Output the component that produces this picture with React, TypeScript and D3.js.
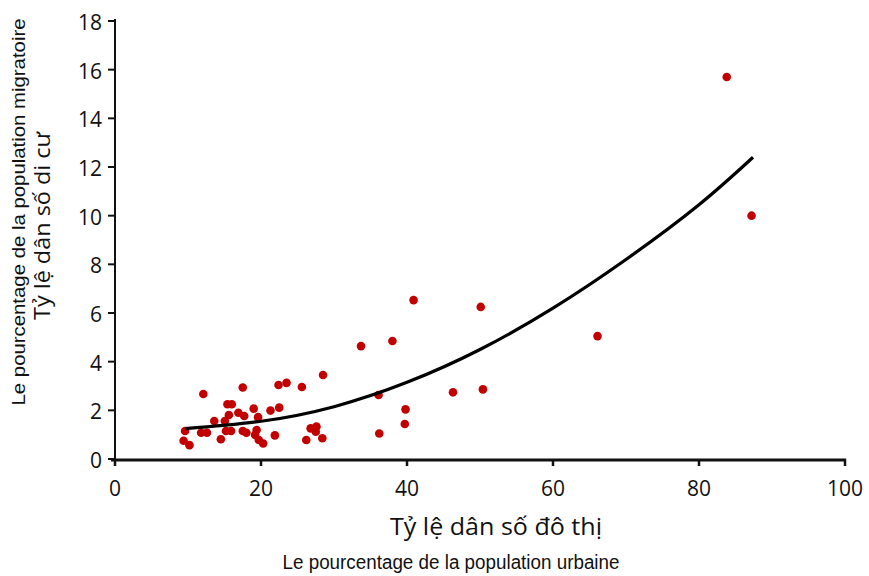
import React from "react";
import * as d3 from "d3";

// Scatter data: urban population % (x) vs migrant population % (y)
const urbanPct = [
  9.6, 9.4, 10.2, 12.1, 11.8, 12.6, 13.6, 14.5, 15.05, 15.6,
  15.4, 16.0, 15.2, 15.9, 17.5, 16.9, 17.7, 17.5, 18.0, 19.0,
  19.6, 19.4, 19.2, 19.7, 20.3, 21.3, 22.5, 21.9, 22.4, 23.5,
  25.6, 26.2, 26.8, 27.6, 27.5, 28.4, 28.5, 33.7, 38.0, 36.1,
  46.3, 50.4, 39.8, 39.7, 36.2, 40.9, 50.1, 83.8, 87.2, 66.1,
];
const migrantPct = [
  1.15, 0.75, 0.57, 2.67, 1.08, 1.08, 1.56, 0.81, 1.56, 1.81,
  2.25, 2.25, 1.15, 1.15, 2.94, 1.9, 1.77, 1.15, 1.08, 2.07,
  1.72, 1.19, 0.99, 0.78, 0.64, 1.99, 2.11, 0.97, 3.04, 3.13,
  2.96, 0.78, 1.26, 1.33, 1.12, 0.85, 3.45, 4.64, 4.85, 2.63,
  2.74, 2.86, 2.04, 1.44, 1.05, 6.53, 6.25, 15.7, 10.0, 5.05,
];

// Trend curve
const trendX = [9.6, 20, 30, 40, 50, 60, 70, 80, 87.4];
const trendY = [1.25, 1.55, 2.15, 3.15, 4.5, 6.2, 8.2, 10.45, 12.4];

const xTicks = [0, 20, 40, 60, 80, 100];
const yTicks = [0, 2, 4, 6, 8, 10, 12, 14, 16, 18];

const yTitleVi = "Tỷ lệ dân số di cư";
const yTitleFr = "Le pourcentage de la population migratoire";
const xTitleVi = "Tỷ lệ dân số đô thị";
const xTitleFr = "Le pourcentage de la population urbaine";

export default function App() {
  const W = 869;
  const H = 576;
  const x = d3.scaleLinear().domain([0, 100]).range([115, 845]);
  const y = d3.scaleLinear().domain([0, 18]).range([459, 21]);

  const points = urbanPct.map((v, i) => ({ x: v, y: migrantPct[i] }));
  const trend = trendX.map((v, i) => [v, trendY[i]] as [number, number]);
  const line = d3
    .line<[number, number]>()
    .x((d) => x(d[0]))
    .y((d) => y(d[1]))
    .curve(d3.curveNatural);

  const tickFont = "'Open Sans', 'Noto Sans', sans-serif";
  const x0 = x(0);
  const y0 = y(0);

  return (
    <svg
      width={W}
      height={H}
      style={{ position: "absolute", left: 0, top: 0, background: "#fff" }}
    >
      <rect x={0} y={0} width={W} height={H} fill="#fff" />
      {/* y axis */}
      <line x1={x0} x2={x0} y1={y(18) - 2} y2={y0 + 2} stroke="#111" strokeWidth={2} />
      {yTicks.map((t) => (
        <g key={"y" + t}>
          <line x1={x0 - 7} x2={x0} y1={y(t)} y2={y(t)} stroke="#111" strokeWidth={2} />
          <text
            x={x0 - 13}
            y={y(t) + 1}
            textAnchor="end"
            dominantBaseline="central"
            fontFamily={tickFont}
            fontSize={21}
            fill="#111"
          >
            {t}
          </text>
        </g>
      ))}
      {/* x axis */}
      <line x1={x0 - 4} x2={x(100) + 1} y1={y0 + 1} y2={y0 + 1} stroke="#111" strokeWidth={3} />
      {xTicks.map((t) => (
        <g key={"x" + t}>
          <line x1={x(t)} x2={x(t)} y1={y0} y2={y0 + 7} stroke="#111" strokeWidth={2.5} />
          <text
            x={x(t)}
            y={y0 + 29}
            textAnchor="middle"
            dominantBaseline="central"
            fontFamily={tickFont}
            fontSize={21}
            fill="#111"
          >
            {t}
          </text>
        </g>
      ))}
      {/* points */}
      {points.map((p, i) => (
        <circle key={i} cx={x(p.x)} cy={y(p.y)} r={4.3} fill="#c20000" />
      ))}
      {/* trend curve */}
      <path d={line(trend) || ""} fill="none" stroke="#000" strokeWidth={3.2} />
      {/* axis titles */}
      <text
        transform={`translate(41,226) rotate(-90)`}
        textAnchor="middle"
        dominantBaseline="central"
        fontFamily={tickFont}
        fontSize={22}
        textLength={188}
        lengthAdjust="spacingAndGlyphs"
        fill="#111"
      >
        {yTitleVi}
      </text>
      <text
        transform={`translate(19,212) rotate(-90)`}
        textAnchor="middle"
        dominantBaseline="central"
        fontFamily="'Liberation Sans', Arial, sans-serif"
        fontSize={17.5}
        textLength={387}
        lengthAdjust="spacingAndGlyphs"
        fill="#111"
      >
        {yTitleFr}
      </text>
      <text
        x={496}
        y={526}
        textAnchor="middle"
        dominantBaseline="central"
        fontFamily={tickFont}
        fontSize={23}
        textLength={212}
        lengthAdjust="spacingAndGlyphs"
        fill="#111"
      >
        {xTitleVi}
      </text>
      <text
        x={451}
        y={562}
        textAnchor="middle"
        dominantBaseline="central"
        fontFamily="'Liberation Sans Narrow', 'Liberation Sans', Arial, sans-serif"
        fontSize={20}
        textLength={337}
        lengthAdjust="spacingAndGlyphs"
        fill="#111"
      >
        {xTitleFr}
      </text>
    </svg>
  );
}
